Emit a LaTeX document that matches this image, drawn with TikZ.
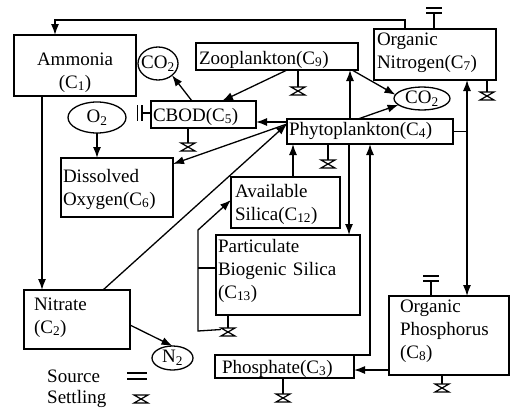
\documentclass[tikz,border=0pt]{standalone}
\usepackage{fontspec}
\setmainfont{Liberation Serif}
\usetikzlibrary{arrows.meta,shapes.geometric}
\tikzset{
  lw/.style={line width=1.3pt},
  box/.style={draw, lw, inner ysep=0pt, outer sep=0pt, align=left, anchor=north west},
  ell/.style={draw, ellipse, lw, inner sep=0pt, outer sep=0pt},
  arr/.style={lw, -{Latex[length=11pt,width=8pt]}},
  arrtwo/.style={lw, {Latex[length=11pt,width=8pt]}-{Latex[length=11pt,width=8pt]}},
  settle/.pic={\draw[line width=1.2pt] (-7,0) -- (7,0) -- (-7,8) -- (7,8) -- cycle;},
  source/.pic={\draw[line width=1.2pt] (-8,0) -- (8,0) (-8,-5) -- (8,-5);}
}
\begin{document}
\begin{tikzpicture}[x=1pt,y=-1pt,font=\fontsize{19}{23}\selectfont]
\useasboundingbox (0,0) rectangle (510,410);
% boxes
\node[box, align=center, inner xsep=4pt, text width=114pt, text height=30pt, text depth=31pt] (amm) at (14,35) {Ammonia\hspace*{16pt}\\(C\textsubscript{1})\hspace*{16pt}};
\node[box, inner xsep=3pt, text width=116pt, text height=16pt, text depth=35pt] (on) at (374,29) {Organic\\Nitrogen(C\textsubscript{7})};
\node[box, inner xsep=3pt, text width=156pt, text height=21pt, text depth=6pt] (zoo) at (196,43) {Zooplankton(C\textsubscript{9})};
\node[box, inner xsep=2pt, text width=101pt, text height=20pt, text depth=7pt] (cbod) at (151,101) {CBOD(C\textsubscript{5})};
\node[box, inner xsep=2pt, text width=162pt, text height=16pt, text depth=9pt] (phy) at (287,119) {Phytoplankton(C\textsubscript{4})};
\node[box, inner xsep=2pt, text width=108pt, text height=24pt, text depth=35pt] (do) at (61,158) {Dissolved\\Oxygen(C\textsubscript{6})};
\node[box, inner xsep=4pt, text width=101pt, text height=20pt, text depth=31pt] (as) at (231,177) {Available\\Silica(C\textsubscript{12})};
\node[box, inner xsep=2pt, text width=140pt, text height=17pt, text depth=63pt] (pbs) at (216,235) {Particulate\\Biogenic Silica\\(C\textsubscript{13})};
\node[box, inner xsep=10pt, text width=86pt, text height=20pt, text depth=39pt] (nit) at (24,290) {Nitrate\\(C\textsubscript{2})};
\node[box, inner xsep=7pt, text width=125pt, text height=18pt, text depth=5pt] (pho) at (215,355) {Phosphate(C\textsubscript{3})};
\node[box, inner xsep=11pt, text width=98pt, text height=16pt, text depth=63pt] (op) at (389,296) {Organic\\Phosphorus\\(C\textsubscript{8})};
% ellipses
\node[ell, minimum width=40pt, minimum height=33pt] (co2a) at (158,63.5) {\makebox[0pt]{CO\textsubscript{2}}};
\node[ell, minimum width=56pt, minimum height=23pt] (co2b) at (422,98.5) {\makebox[0pt]{CO\textsubscript{2}}};
\node[ell, minimum width=58pt, minimum height=31pt] (o2) at (97,117.5) {\makebox[0pt]{O\textsubscript{2}}};
\node[ell, minimum width=41pt, minimum height=24pt] (n2) at (172.5,358) {\makebox[0pt]{N\textsubscript{2}}};
% helper coordinates
\coordinate (tl) at (55,20); \coordinate (tr) at (405,20);
\coordinate (xa) at (42,0); \coordinate (ny) at (0,325);
\coordinate (nx) at (103,0);
\coordinate (pc) at ([yshift=-5pt]phy.north west);
\coordinate (pc2) at ([yshift=-3pt]phy.north west);
\coordinate (px1) at (350,0); \coordinate (px2) at (293,0);
\coordinate (px3) at (349,0); \coordinate (px4) at (467,0);
\coordinate (py1) at (0,370); \coordinate (py2) at (0,268);
\coordinate (lp1) at (198,331); \coordinate (lp2) at (198,230);
\coordinate (ls) at (221,329.5);
% connectors
\draw[arr] (on.north -| tr) -- (tr) -- (tl) -- (amm.north -| tl);
\draw[arr] (amm.south -| xa) -- (nit.north -| xa);
\draw[arr] (nit.east |- ny) -- (n2.north);
\draw[arr] (nit.north -| nx) -- (pc);
\draw[arr] (pc) -- ([yshift=-6pt]do.north east);
\draw[arr] (pc2) -- (cbod.east |- pc2);
\draw[arr] (o2.south) -- (do.north -| o2.south);
\draw[arr] ([xshift=10pt]zoo.south) -- ([xshift=18.5pt]cbod.north);
\draw[arr] ([xshift=-11.5pt]cbod.north) -- (co2a.-40);
\draw[arr] (phy.north -| px1) -- (zoo.south -| px1);
\draw[arr] ([xshift=-6pt]zoo.south east) -- (co2b.172);
\draw[arr] ([xshift=-12pt]phy.north) -- (co2b.195);
\draw[arr] (as.north -| px2) -- (phy.south -| px2);
\draw[arr] (phy.south -| px3) -- (pbs.north -| px3);
\draw[arr] (pho.north east) -| (phy.south);
\draw[arr] (op.west |- py1) -- (pho.east |- py1);
\draw[arrtwo] (on.south -| px4) -- (op.north -| px4);
\draw[lw] (phy.east) -- (phy.east -| px4);
\draw[arr] (ls) -- (lp1) -- (lp2) -- ([yshift=2.5pt]as.west);
\draw[lw] (pbs.west |- py2) -- (lp1 |- py2);
% settling symbols
\coordinate (s1) at (487,92); \coordinate (s2) at (298,87);
\coordinate (s3) at (188,143); \coordinate (s4) at (328,160);
\coordinate (s5) at (228,328); \coordinate (s6) at (283,394);
\coordinate (s7) at (442,384); \coordinate (s8) at (141,395);
\draw[lw] (on.south -| s1) -- (s1); \pic at (s1) {settle};
\draw[lw] (zoo.south -| s2) -- (s2); \pic at (s2) {settle};
\draw[lw] (cbod.south -| s3) -- (s3); \pic at (s3) {settle};
\draw[lw] (phy.south -| s4) -- (s4); \pic at (s4) {settle};
\draw[lw] (pbs.south -| s5) -- (s5); \pic at (s5) {settle};
\draw[lw] (pho.south -| s6) -- (s6); \pic at (s6) {settle};
\draw[lw] (op.south -| s7) -- (s7); \pic at (s7) {settle};
\pic at (s8) {settle};
% source symbols
\coordinate (q1) at (434,13); \coordinate (q2) at (431,281); \coordinate (q3) at (142,113);
\draw[lw] (on.north -| q1) -- (q1); \pic at (q1) {source};
\draw[lw] (op.north -| q2) -- (q2); \pic at (q2) {source};
\draw[lw] (cbod.west |- q3) -- (q3);
\draw[line width=1.2pt] (142,105) -- (142,121) (137.5,105) -- (137.5,121);
\draw[line width=1.2pt] (127,373) -- (147,373) (127,379) -- (147,379);
% legend
\node[anchor=base west, inner sep=0pt] (lsrc) at (47,382) {Source};
\node[anchor=base west, inner sep=0pt] (lset) at (47,403) {Settling};
\end{tikzpicture}
\end{document}
